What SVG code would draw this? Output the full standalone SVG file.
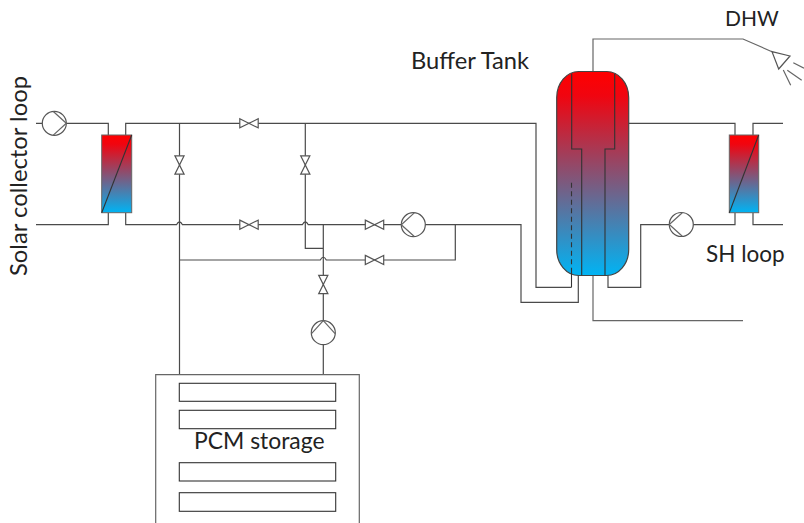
<svg xmlns="http://www.w3.org/2000/svg" width="804" height="523" viewBox="0 0 804 523">
<style>
.p{fill:none;stroke:#4a4a4a;stroke-width:1.2}
.s{fill:#fff;stroke:#555;stroke-width:1.2}
.g{fill:none;stroke:#666;stroke-width:1.2}
.k{fill:none;stroke:#333;stroke-width:1.1}
text{font-family:"Lato","Open Sans",sans-serif;font-size:22.500px;fill:#222}
</style>
<defs>
<linearGradient id="grad" x1="0" y1="0" x2="0" y2="1"><stop offset="0" stop-color="#ff0000"/><stop offset="0.12" stop-color="#f00510"/><stop offset="1" stop-color="#00b4f4"/></linearGradient>
<g id="valve"><path class="s" d="M-9.200-4.600L9.200 4.600V-4.600L-9.200 4.600Z"/></g>
<g id="pump"><circle r="12" fill="#fff" stroke="#555" stroke-width="1.2"/><path class="g" d="M-12 0L1-11.800M-12 0L1 11.800"/></g>
</defs>
<g id="connectors">
<path class="p" d="M36 123.300H42M66 123.300H108.300V135M125.700 135V123.300H536V287.300H571.500"/>
<path class="p" d="M36 224.700H108.300V212.700M125.700 212.700V224.700H176.500Q179.500 219 182.500 224.700H302.300Q305.300 219 308.300 224.700H521V302.300H578.300V275.300"/>
<path class="p" d="M179.500 123.300V374.700M179.500 260H320.300Q323.300 254.500 326.300 260H455.300V224.700"/>
<path class="p" d="M305.300 123.300V248.300H323.300M323.300 224.700V374.700"/>
<path class="p" d="M608 275.300V287.300H640.700V224.700H735V212.700M753 212.700V224.700H783M628.700 123.300H735V135M753 135V123.300H783"/>
<path class="g" d="M593 71.500V39H743L772 51.700M593 275.300V320.700H743M793.300 62.700L804 68.300M787.300 70.300L801.700 80.300M783.300 70L790.700 85.300"/>
</g>
<g id="buffer-tank">
<rect x="556.700" y="71.500" width="72" height="204" rx="22" ry="26" fill="url(#grad)" stroke="#444" stroke-width="1.2"/>
<path class="k" d="M571.700 73.500V149H581.700V275.300M614.700 73.500V149H605V275.300"/>
<path class="k" d="M571.500 182.700V271" stroke-dasharray="5 3.500"/>
<path class="k" d="M571.500 271V287.300"/>
</g>
<g id="hx-solar">
<rect x="101.700" y="135" width="30" height="77.700" fill="url(#grad)" stroke="#666" stroke-width="1"/>
<path class="k" d="M101.700 212.700L131.700 135"/>
</g>
<g id="hx-sh">
<rect x="729.300" y="135" width="29.400" height="77.700" fill="url(#grad)" stroke="#666" stroke-width="1"/>
<path class="k" d="M729.300 212.700L758.700 135"/>
</g>
<g id="pump-solar"><use href="#pump" transform="translate(54.300 123.300) rotate(180)"/></g>
<g id="pump-main"><use href="#pump" transform="translate(413.300 224.700)"/></g>
<g id="pump-pcm"><use href="#pump" transform="translate(323.300 332.700) rotate(90)"/></g>
<g id="pump-sh"><use href="#pump" transform="translate(681.300 224.500)"/></g>
<g id="valve-1"><use href="#valve" transform="translate(249 123.300)"/></g>
<g id="valve-2"><use href="#valve" transform="translate(179.500 165) rotate(90)"/></g>
<g id="valve-3"><use href="#valve" transform="translate(305.300 165) rotate(90)"/></g>
<g id="valve-4"><use href="#valve" transform="translate(249 224.700)"/></g>
<g id="valve-5"><use href="#valve" transform="translate(374.500 224.700)"/></g>
<g id="valve-6"><use href="#valve" transform="translate(374.500 260)"/></g>
<g id="valve-7"><use href="#valve" transform="translate(323.300 284.500) rotate(90)"/></g>
<g id="shower"><path class="s" d="M772 51.700L790 56L778.700 69Z"/></g>
<g id="pcm-storage">
<path class="g" d="M155.700 523V374.700H359.300V523"/>
<rect class="k" x="179.300" y="383.300" width="156.400" height="18"/>
<rect class="k" x="179.300" y="410.300" width="156.400" height="18.400"/>
<rect class="k" x="179.300" y="462.700" width="156.400" height="18.300"/>
<rect class="k" x="179.300" y="492.700" width="156.400" height="18.600"/>
<text x="194" y="449" style="font-size:22.900px">PCM storage</text>
</g>
<g id="labels">
<text x="411" y="69" style="font-size:23.700px">Buffer Tank</text>
<text x="725" y="26" style="font-size:21px">DHW</text>
<text x="706" y="262">SH loop</text>
<text transform="translate(27 276) rotate(-90)" style="font-size:23.800px">Solar collector loop</text>
</g>
</svg>
